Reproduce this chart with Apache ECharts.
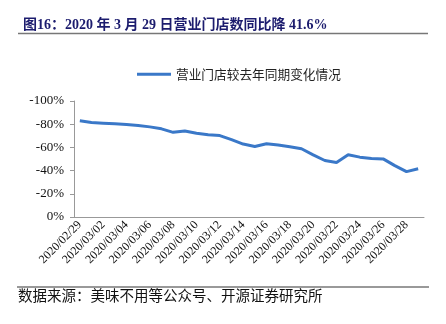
<!DOCTYPE html>
<html>
<head>
<meta charset="utf-8">
<script src="https://cdn.jsdelivr.net/npm/echarts@6/dist/echarts.min.js"></script>
<style>html,body{margin:0;padding:0;background:#fff;}#c{width:446px;height:324px;}</style>
</head>
<body>
<div id="c"></div>
<script>
const categories = ['2020/02/29','2020/03/01','2020/03/02','2020/03/03','2020/03/04','2020/03/05','2020/03/06','2020/03/07','2020/03/08','2020/03/09','2020/03/10','2020/03/11','2020/03/12','2020/03/13','2020/03/14','2020/03/15','2020/03/16','2020/03/17','2020/03/18','2020/03/19','2020/03/20','2020/03/21','2020/03/22','2020/03/23','2020/03/24','2020/03/25','2020/03/26','2020/03/27','2020/03/28','2020/03/29'];
const values = [-82.9,-81.5,-80.9,-80.3,-79.7,-78.8,-77.7,-76.0,-73.0,-74.2,-72.2,-71.0,-70.2,-66.7,-62.9,-60.8,-63.2,-62.0,-60.6,-58.8,-53.6,-48.7,-47.0,-53.6,-51.6,-50.4,-50.1,-44.3,-39.1,-41.6];
const seriesName = '营业门店较去年同期变化情况';
const titleText = '图16：2020 年 3 月 29 日营业门店数同比降 41.6%';
const sourceText = '数据来源：美味不用等公众号、开源证券研究所';

const chart = echarts.init(document.getElementById('c'));
chart.setOption({
  animation: false,
  title: {
    text: titleText,
    left: 18, top: 13,
    textStyle: {fontFamily: '"Liberation Serif","Noto Sans CJK SC"', fontSize: 14, fontWeight: 'bold', color: '#1c1c6e'}
  },
  legend: {
    data: [seriesName],
    left: 132, top: 63,
    icon: 'rect', itemWidth: 34, itemHeight: 3, itemGap: 6,
    textStyle: {fontFamily: '"Noto Sans CJK SC"', fontSize: 12.7, color: '#222'}
  },
  grid: {left: 74, right: 22, top: 101, bottom: 107},
  xAxis: {
    type: 'category',
    data: categories,
    boundaryGap: true,
    axisLine: {lineStyle: {color: '#999'}},
    axisTick: {interval: 0, length: 4, lineStyle: {color: '#999'}},
    axisLabel: {interval: 1, rotate: 45, margin: 6, color: '#111', fontFamily: '"Liberation Serif"', fontSize: 12}
  },
  yAxis: {
    type: 'value', min: -100, max: 0, interval: 20, inverse: true,
    axisLine: {show: true, lineStyle: {color: '#999'}},
    axisTick: {show: true, length: 4, lineStyle: {color: '#999'}},
    splitLine: {show: false},
    axisLabel: {formatter: v => v + '%', color: '#111', fontFamily: '"Liberation Serif"', fontSize: 13, margin: 10}
  },
  series: [{
    name: seriesName, type: 'line', data: values,
    symbol: 'none', smooth: false,
    lineStyle: {width: 3, color: '#3a78c8'},
    itemStyle: {color: '#3a78c8'}
  }],
  graphic: [
    {type: 'line', shape: {x1: 18, y1: 33.5, x2: 428, y2: 33.5}, style: {stroke: '#777', lineWidth: 1.5}},
    {type: 'line', shape: {x1: 17, y1: 287, x2: 429, y2: 287}, style: {stroke: '#777', lineWidth: 1.5}},
    {type: 'text', left: 18, top: 288, style: {text: sourceText, font: '14.5px "Noto Sans CJK SC"', fill: '#111'}}
  ]
});
</script>
</body>
</html>
